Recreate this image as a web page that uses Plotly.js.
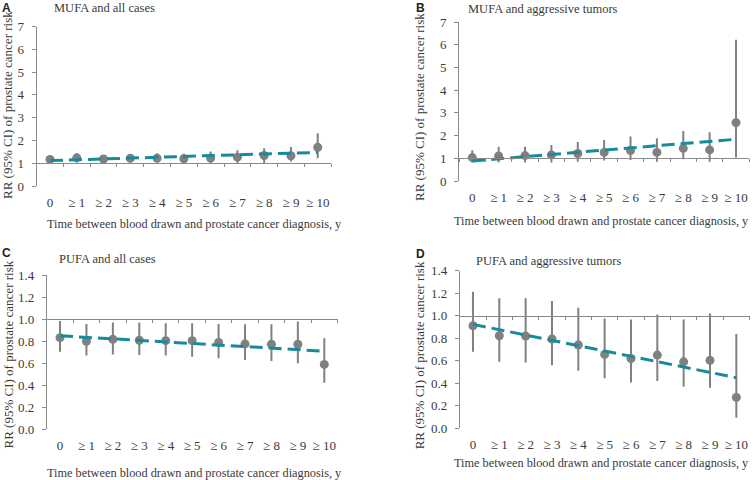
<!DOCTYPE html>
<html>
<head>
<meta charset="utf-8">
<script src="https://cdn.plot.ly/plotly-3.0.1.min.js"></script>
<style>html,body{margin:0;padding:0;background:#fff;}#chart{width:753px;height:480px;}</style>
</head>
<body>
<div id="chart"></div>
<script>
// ---- data ----
const categories = ['0','≥ 1','≥ 2','≥ 3','≥ 4','≥ 5','≥ 6','≥ 7','≥ 8','≥ 9','≥ 10'];

const mufaAllRR    = [1.17,1.24,1.19,1.22,1.22,1.20,1.23,1.27,1.34,1.33,1.70];
const mufaAllLow   = [1.04,1.04,1.03,1.04,1.04,1.02,0.98,0.99,1.01,1.08,1.22];
const mufaAllHigh  = [1.31,1.44,1.36,1.38,1.44,1.42,1.52,1.57,1.66,1.71,2.32];
const mufaAllTrend = [1.12,1.16,1.19,1.23,1.26,1.30,1.34,1.37,1.41,1.44,1.48];

const mufaAggRR    = [1.03,1.10,1.12,1.15,1.21,1.26,1.34,1.26,1.44,1.37,2.57];
const mufaAggLow   = [0.81,0.81,0.81,0.81,0.85,0.90,0.93,0.85,0.96,0.85,1.04];
const mufaAggHigh  = [1.35,1.51,1.51,1.59,1.72,1.81,1.96,1.88,2.20,2.15,6.22];
const mufaAggTrend = [0.88,0.98,1.07,1.17,1.26,1.36,1.46,1.55,1.65,1.74,1.84];

const pufaAllRR    = [0.833,0.800,0.818,0.810,0.806,0.806,0.790,0.776,0.773,0.773,0.590];
const pufaAllLow   = [0.706,0.670,0.680,0.675,0.670,0.660,0.645,0.630,0.620,0.600,0.424];
const pufaAllHigh  = [0.985,0.958,0.970,0.970,0.964,0.964,0.958,0.955,0.955,0.980,0.827];
const pufaAllTrend = [0.850,0.836,0.822,0.808,0.794,0.780,0.766,0.752,0.738,0.724,0.710];

const pufaAggRR    = [0.911,0.822,0.819,0.793,0.740,0.656,0.620,0.650,0.590,0.603,0.274];
const pufaAggLow   = [0.680,0.591,0.585,0.560,0.510,0.443,0.407,0.420,0.369,0.360,0.093];
const pufaAggHigh  = [1.213,1.154,1.154,1.130,1.070,0.976,0.967,1.010,0.967,1.020,0.837];
const pufaAggTrend = [0.923,0.876,0.828,0.781,0.733,0.686,0.639,0.591,0.544,0.496,0.449];

const panelTitles = ['MUFA and all cases','MUFA and aggressive tumors','PUFA and all cases','PUFA and aggressive tumors'];
const panelLetters = ['A','B','C','D'];
const yTitle = 'RR (95% CI) of prostate cancer risk';
const xTitle = 'Time between blood drawn and prostate cancer diagnosis, y';

// ---- styling / layout ----
const W = 753, H = 480;
const GRAY = '#808080', TEAL = '#188b9b', AXIS = '#8a8a8a', TXT = '#3a3a3a';
const FONT = '"Liberation Serif", "Times New Roman", serif';
const FS = 12.5;

// pixel geometry for each panel: x px of -0.5 and 10.5, y px of ymin and ymax
const panels = [
  {rr: mufaAllRR, lo: mufaAllLow, hi: mufaAllHigh, tr: mufaAllTrend, px:[36.6,331.1], py:[186.1,26.5], yr:[0,7], dt:1, fmt:'d',
   title:[52,8], letter:[0,8], yt:[7,105], xt:[194,224], xa:'center'},
  {rr: mufaAggRR, lo: mufaAggLow, hi: mufaAggHigh, tr: mufaAggTrend, px:[459.1,749.2], py:[181.0,22.1], yr:[0,7], dt:1, fmt:'d',
   title:[466,9], letter:[414,8], yt:[419,107], xt:[751,221], xa:'right'},
  {rr: pufaAllRR, lo: pufaAllLow, hi: pufaAllHigh, tr: pufaAllTrend, px:[46.8,337.5], py:[429.3,275.3], yr:[0,1.4], dt:0.2, fmt:'.1f',
   title:[57,259], letter:[0,253], yt:[7.5,355], xt:[194,473], xa:'center'},
  {rr: pufaAggRR, lo: pufaAggLow, hi: pufaAggHigh, tr: pufaAggTrend, px:[459.8,749.5], py:[428.2,270.7], yr:[0,1.4], dt:0.2, fmt:'.1f',
   title:[474,261], letter:[414,254], yt:[419.3,355], xt:[751,463], xa:'right'}
];

const fx = p => p / W;
const fy = p => 1 - p / H;

const data = [];
const layout = {
  width: W, height: H,
  margin: {l:0, r:0, t:0, b:0},
  paper_bgcolor: '#fff', plot_bgcolor: 'rgba(0,0,0,0)',
  showlegend: false,
  font: {family: FONT, size: FS, color: TXT},
  annotations: []
};

panels.forEach((p, i) => {
  const n = i + 1;
  const xa = 'x' + (n === 1 ? '' : n), ya = 'y' + (n === 1 ? '' : n);
  const xo = 'x' + (n + 4);
  const xkey = 'xaxis' + (n === 1 ? '' : n), ykey = 'yaxis' + (n === 1 ? '' : n);
  const xdom = [fx(p.px[0]), fx(p.px[1])];
  const ydom = [fy(p.py[0]), fy(p.py[1])];
  const onePos = ydom[0] + (ydom[1] - ydom[0]) * (1 - p.yr[0]) / (p.yr[1] - p.yr[0]);

  layout[xkey] = {
    domain: xdom, anchor: ya, type: 'category', categoryarray: categories, categoryorder: 'array',
    range: [-0.5, 10.5], showline: false, showgrid: false, zeroline: false,
    ticks: 'outside', ticklen: 4, tickcolor: 'rgba(0,0,0,0)',
    tickfont: {family: FONT, size: 13, color: TXT}, fixedrange: true
  };
  layout['xaxis' + (n + 4)] = {
    overlaying: xa, anchor: 'free', position: onePos, type: 'category',
    categoryarray: categories, categoryorder: 'array', range: [-0.5, 10.5],
    showline: true, linecolor: AXIS, linewidth: 1,
    ticks: 'outside', tickson: 'boundaries', ticklen: 3, tickcolor: AXIS, tickwidth: 1,
    showticklabels: false, showgrid: false, zeroline: false, fixedrange: true
  };
  layout[ykey] = {
    domain: ydom, anchor: xa, range: p.yr, showline: true, linecolor: AXIS, linewidth: 1,
    ticks: 'outside', ticklen: 4, tickcolor: AXIS, dtick: p.dt, tick0: 0, tickformat: p.fmt,
    showgrid: false, zeroline: false, ticklabelstandoff: 5,
    tickfont: {family: FONT, size: 13, color: TXT}, fixedrange: true
  };

  data.push({
    type: 'scatter', mode: 'markers', x: categories, y: p.rr, xaxis: xa, yaxis: ya,
    marker: {color: GRAY, size: 9},
    error_y: {type: 'data', symmetric: false,
      array: p.hi.map((h, k) => h - p.rr[k]),
      arrayminus: p.lo.map((l, k) => p.rr[k] - l),
      color: GRAY, thickness: 2, width: 0},
    hoverinfo: 'skip'
  });
  data.push({
    type: 'scatter', mode: 'lines', x: categories, y: p.tr, xaxis: xo, yaxis: ya,
    line: {color: TEAL, width: 3, dash: '13px,6px'}, hoverinfo: 'skip'
  });

  layout.annotations.push(
    {text: panelTitles[i], xref: 'paper', yref: 'paper', x: fx(p.title[0]), y: fy(p.title[1]),
     xanchor: 'left', yanchor: 'middle', showarrow: false, font: {family: FONT, size: FS, color: TXT}},
    {text: '<b>' + panelLetters[i] + '</b>', xref: 'paper', yref: 'paper', x: fx(p.letter[0]), y: fy(p.letter[1]),
     xanchor: 'left', yanchor: 'middle', showarrow: false, font: {family: '"Liberation Sans", Arial, sans-serif', size: 12, color: '#222'}},
    {text: yTitle, xref: 'paper', yref: 'paper', x: fx(p.yt[0]), y: fy(p.yt[1]), textangle: -90,
     xanchor: 'center', yanchor: 'middle', showarrow: false, font: {family: FONT, size: 13, color: TXT}},
    {text: xTitle, xref: 'paper', yref: 'paper', x: fx(p.xt[0]), y: fy(p.xt[1]),
     xanchor: p.xa, yanchor: 'middle', showarrow: false, font: {family: FONT, size: 12.3, color: TXT}}
  );
});

Plotly.newPlot('chart', data, layout, {staticPlot: true, displayModeBar: false});
</script>
</body>
</html>
